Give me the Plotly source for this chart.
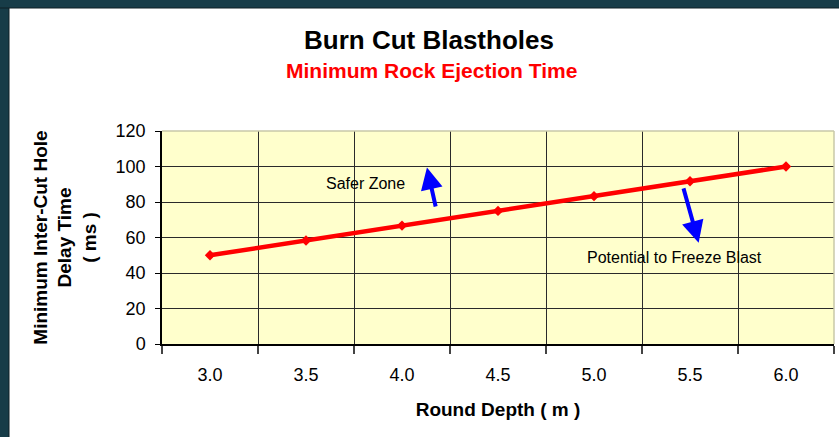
import plotly.graph_objects as go

#########
# DATA  #
#########

round_depth = [3.0, 3.5, 4.0, 4.5, 5.0, 5.5, 6.0]
delay_time = [50.0, 58.3, 66.7, 75.0, 83.3, 91.7, 100.0]
y_ticks = [0, 20, 40, 60, 80, 100, 120]

##########
# Styles #
##########

FONT = "Liberation Sans, Arial, sans-serif"
FRAME = "#173C48"
ARROW = "#0000FF"

# plot area in pixels: l=162, r=834, t=131, b=344
PX_L, PX_R, PX_T, PX_B = 162, 834, 131, 344


def px_x(p):
    return (p - PX_L) / (PX_R - PX_L)


def px_y(p):
    return (PX_B - p) / (PX_B - PX_T)


fig = go.Figure()

fig.add_trace(
    go.Scatter(
        x=round_depth,
        y=delay_time,
        mode="lines+markers",
        line=dict(color="#FF0000", width=4.5),
        marker=dict(symbol="diamond", size=8, color="#FF0000"),
        showlegend=False,
    )
)

fig.update_layout(
    width=839,
    height=437,
    margin=dict(l=PX_L, r=839 - PX_R, t=PX_T, b=437 - PX_B),
    paper_bgcolor="white",
    plot_bgcolor="#FFFFCC",
    font=dict(family=FONT, color="black", size=18),
    xaxis=dict(
        range=[2.75, 6.25],
        tickvals=round_depth,
        tickformat=".1f",
        ticks="",
        ticklabelstandoff=14,
        showgrid=False,
        zeroline=False,
        showline=True,
        linecolor="black",
        linewidth=1.5,
        minor=dict(
            tick0=2.75,
            dtick=0.5,
            showgrid=True,
            gridcolor="#2A2A2A",
            gridwidth=1,
            ticks="outside",
            ticklen=8,
            tickcolor="#444444",
            tickwidth=1.5,
        ),
        title=dict(
            text="<b>Round Depth ( m )</b>",
            font=dict(size=19),
            standoff=18,
        ),
        fixedrange=True,
    ),
    yaxis=dict(
        range=[0, 120],
        tickvals=y_ticks,
        ticks="outside",
        ticklen=5,
        tickcolor="black",
        ticklabelstandoff=6,
        showgrid=True,
        gridcolor="#2A2A2A",
        gridwidth=1,
        zeroline=False,
        showline=True,
        linecolor="black",
        linewidth=1.5,
        title=dict(
            text="<b>Minimum Inter-Cut Hole<br>Delay Time<br>( ms )</b>",
            font=dict(size=19),
            standoff=14,
        ),
        fixedrange=True,
    ),
)

# dark frame round the slide, and the light top/right plot border
fig.add_shape(type="rect", xref="paper", yref="paper", layer="above",
              x0=px_x(-5), x1=px_x(9), y0=px_y(445), y1=px_y(-5),
              fillcolor=FRAME, line=dict(color="#0E1E24", width=1))
fig.add_shape(type="rect", xref="paper", yref="paper", layer="above",
              x0=px_x(-5), x1=px_x(845), y0=px_y(8), y1=px_y(-5),
              fillcolor=FRAME, line=dict(color="#0E1E24", width=1))
fig.add_shape(type="line", xref="paper", yref="paper", layer="above",
              x0=0, x1=1, y0=1, y1=1, line=dict(color="#C8C8A8", width=1.5))
fig.add_shape(type="line", xref="paper", yref="paper", layer="above",
              x0=1, x1=1, y0=0, y1=1, line=dict(color="#C8C8A8", width=1.5))

# titles
fig.add_annotation(text="<b>Burn Cut Blastholes</b>", xref="paper", yref="paper",
                   x=px_x(429), y=px_y(40), xanchor="center", yanchor="middle",
                   showarrow=False, font=dict(size=26, color="black"))
fig.add_annotation(text="<b>Minimum Rock Ejection Time</b>", xref="paper", yref="paper",
                   x=px_x(431), y=px_y(71), xanchor="center", yanchor="middle",
                   showarrow=False, font=dict(size=21, color="#FF0000"))

# zone notes with arrows
fig.add_annotation(text="Safer Zone", x=3.81, y=90.7, showarrow=False,
                   font=dict(size=16, color="black"))
fig.add_annotation(text="Potential to Freeze Blast", x=5.417, y=49, showarrow=False,
                   font=dict(size=16, color="black"))
fig.add_annotation(x=4.13, y=99.5, ax=4.177, ay=76.6, axref="x", ayref="y",
                   text="", showarrow=True, arrowhead=2, arrowsize=1.1,
                   arrowwidth=4, arrowcolor=ARROW)
fig.add_annotation(x=5.545, y=57.0, ax=5.464, ay=88.5, axref="x", ayref="y",
                   text="", showarrow=True, arrowhead=2, arrowsize=1.1,
                   arrowwidth=4, arrowcolor=ARROW)

fig.write_html("out.html", config={"displayModeBar": False},
               post_script="document.body.style.margin='0px';")
